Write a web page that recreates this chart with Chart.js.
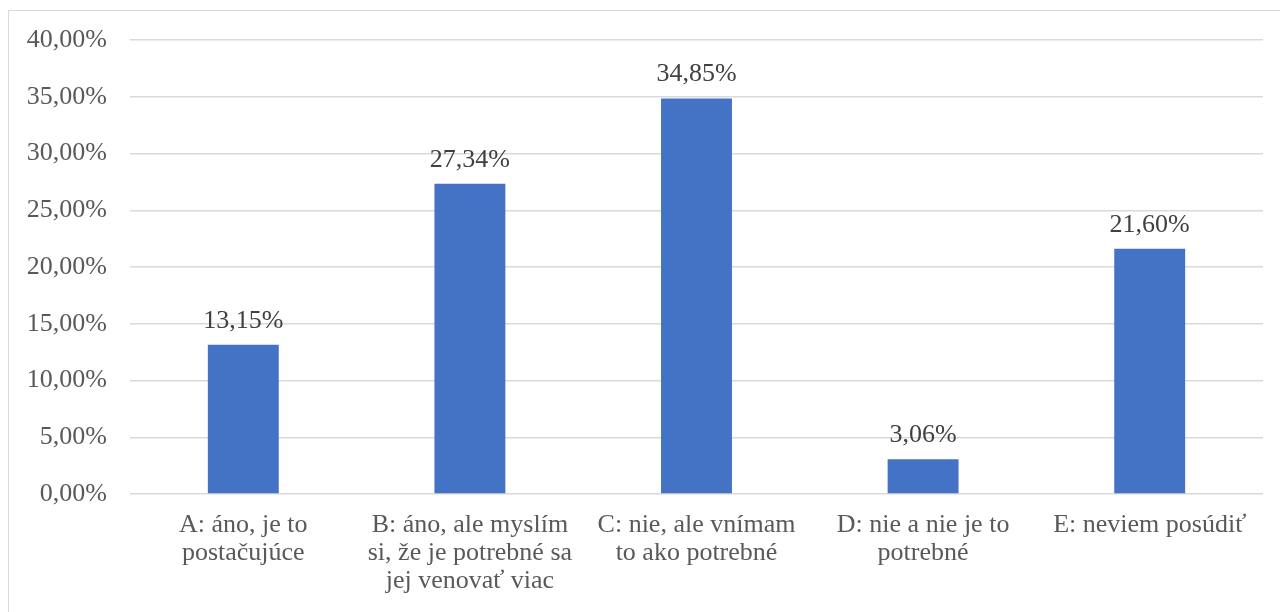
<!DOCTYPE html>
<html>
<head>
<meta charset="utf-8">
<script src="https://cdn.jsdelivr.net/npm/chart.js@4"></script>
<style>
  html, body { margin: 0; padding: 0; background: #fff; }
  #wrap { position: relative; width: 1280px; height: 612px; overflow: hidden; }
  #frame { position: absolute; left: 8px; top: 10px; width: 1290px; height: 620px; border: 1.5px solid #d9d9d9; box-sizing: border-box; }
  #chart { position: absolute; left: 0; top: 0; }
</style>
</head>
<body>
<div id="wrap">
  <div id="frame"></div>
  <canvas id="chart" width="1280" height="612"></canvas>
</div>
<script>
const categories = [
  ["A: áno, je to", "postačujúce"],
  ["B: áno, ale myslím", "si, že je potrebné sa", "jej venovať viac"],
  ["C: nie, ale vnímam", "to ako potrebné"],
  ["D: nie a nie je to", "potrebné"],
  ["E: neviem posúdiť"]
];
const shares = [13.15, 27.34, 34.85, 3.06, 21.60];
const yTicks = [0, 5, 10, 15, 20, 25, 30, 35, 40];

const fmt = v => v.toFixed(2).replace(".", ",") + "%";
const serif = "'Liberation Serif', 'Times New Roman', serif";

// draws the value above every bar
const valueLabels = {
  id: "valueLabels",
  afterDatasetsDraw(chart) {
    const ctx = chart.ctx;
    const meta = chart.getDatasetMeta(0);
    ctx.save();
    ctx.font = "26px " + serif;
    ctx.fillStyle = "#404040";
    ctx.textAlign = "center";
    ctx.textBaseline = "alphabetic";
    meta.data.forEach((bar, i) => {
      ctx.fillText(fmt(shares[i]), bar.x, bar.y - 17);
    });
    ctx.restore();
  }
};

new Chart(document.getElementById("chart"), {
  type: "bar",
  data: {
    labels: categories,
    datasets: [{
      data: shares,
      backgroundColor: "#4472C4",
      barPercentage: 1,
      categoryPercentage: 0.313
    }]
  },
  options: {
    responsive: false,
    animation: false,
    layout: { padding: { left: 8, right: 17, top: 40, bottom: 0 } },
    plugins: { legend: { display: false }, tooltip: { enabled: false } },
    scales: {
      x: {
        grid: { display: false, drawTicks: false },
        border: { display: false },
        ticks: {
          color: "#595959",
          font: { family: serif, size: 26, lineHeight: "28px" },
          padding: 17,
          maxRotation: 0,
          autoSkip: false
        },
        afterFit(s) { s.height = 118; }
      },
      y: {
        min: 0,
        max: 40,
        grid: { color: "#d9d9d9", lineWidth: 1.5, drawTicks: false },
        border: { display: false },
        afterBuildTicks(s) { s.ticks = yTicks.map(v => ({ value: v })); },
        ticks: {
          color: "#595959",
          font: { family: serif, size: 26 },
          padding: 23,
          callback: v => fmt(v)
        },
        afterFit(s) { s.width = 122; }
      }
    }
  },
  plugins: [valueLabels]
});
</script>
</body>
</html>
